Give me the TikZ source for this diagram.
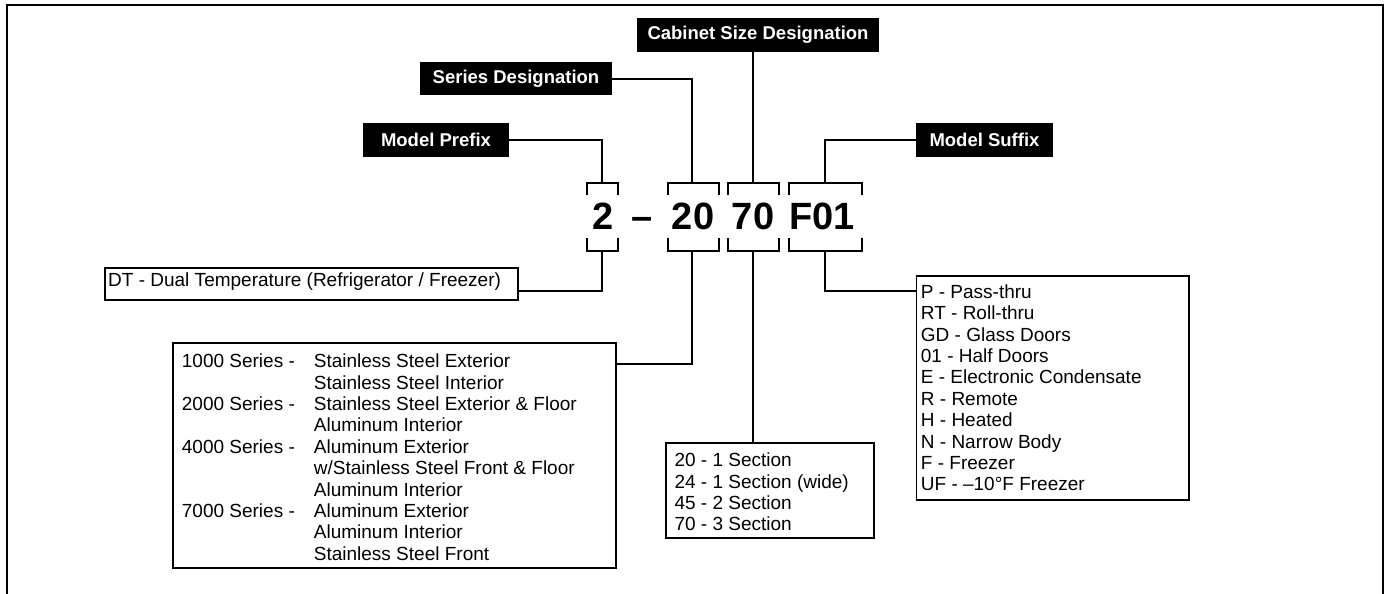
\documentclass[tikz,border=0pt]{standalone}
\usepackage{fontspec}
\setmainfont{Liberation Sans}
\begin{document}
\begin{tikzpicture}[x=1pt,y=-1pt,
  lbl/.style={fill=black,text=white,font=\fontsize{18.5}{22}\selectfont\bfseries,inner sep=0pt,minimum height=33.4pt},
  box/.style={draw,line width=1.8pt,inner sep=0pt},
  conn/.style={line width=1.8pt},
  brk/.style={line width=1.8pt},
  txt/.style={font=\fontsize{19}{21.4}\selectfont,inner sep=0pt,anchor=base west},
  big/.style={font=\fontsize{38}{40}\selectfont\bfseries,inner sep=0pt,anchor=base}]
\useasboundingbox (0,0) rectangle (1384,594);
\draw[line width=2.2pt] (7,594) -- (7,5) -- (1383,5) -- (1383,594);

% top labels
\node[lbl,minimum width=242pt] (cab) at (758,35) {Cabinet Size Designation};
\node[lbl,minimum width=192pt] (ser) at (516,78.7) {Series Designation};
\node[lbl,minimum width=146pt] (pre) at (436,140) {Model Prefix};
\node[lbl,minimum width=137pt] (suf) at (984.5,140) {Model Suffix};

% bracket centres
\coordinate (t1) at (602,183.3); \coordinate (b1) at (602,250.7);
\coordinate (t2) at (692,183.3); \coordinate (b2) at (692,250.7);
\coordinate (t3) at (753,183.3); \coordinate (b3) at (753,250.7);
\coordinate (t4) at (825,183.3); \coordinate (b4) at (825,250.7);

% brackets
\foreach \l/\r in {587/618, 668/719, 728/779, 789/862}{
  \draw[brk] (\l,195) -- (\l,183.3) -- (\r,183.3) -- (\r,195);
  \draw[brk] (\l,238) -- (\l,250.7) -- (\r,250.7) -- (\r,238);
}

% model number
\node[big] (c1) at (603,229) {2};
\node[big] (cd) at (642,229) {–};
\node[big] (c2) at (693,229) {20};
\node[big] (c3) at (753,229) {70};
\node[big] (c4) at (822,229) {F01};

% upper connectors
\draw[conn] (pre.east) -| (t1);
\draw[conn] (ser.east) -| (t2);
\draw[conn] (cab.south -| t3) -- (t3);
\draw[conn] (suf.west) -| (t4);

% boxes
\node[box,minimum width=413pt,minimum height=31.7pt] (dt) at (311.5,284.2) {};
\node[box,minimum width=443pt,minimum height=224.7pt] (sb) at (394.5,455.7) {};
\node[box,minimum width=208.3pt,minimum height=95.6pt] (cb) at (770.2,490.5) {};
\node[box,minimum width=272.5pt,minimum height=224pt] (sx) at (1052.8,388) {};

% lower connectors
\draw[conn] (b1) |- ([yshift=-7pt]dt.east);
\draw[conn] (b2) |- ([yshift=-21.7pt]sb.north east);
\draw[conn] (b3) -- (b3 |- cb.north);
\draw[conn] (b4) |- ([yshift=-15.7pt]sx.north west);

% texts
\node[txt] (dtt) at (108,286.7) {DT - Dual Temperature (Refrigerator / Freezer)};
\node[txt] (sbt) at (181.7,367.7) {\begin{tabular}[t]{@{}p{132pt}@{}l@{}}
1000 Series - & Stainless Steel Exterior\\
 & Stainless Steel Interior\\
2000 Series - & Stainless Steel Exterior \& Floor\\
 & Aluminum Interior\\
4000 Series - & Aluminum Exterior\\
 & w/Stainless Steel Front \& Floor\\
 & Aluminum Interior\\
7000 Series - & Aluminum Exterior\\
 & Aluminum Interior\\
 & Stainless Steel Front
\end{tabular}};
\node[txt] (cbt) at (674.3,466.7) {\begin{tabular}[t]{@{}l@{}}
20 - 1 Section\\
24 - 1 Section (wide)\\
45 - 2 Section\\
70 - 3 Section
\end{tabular}};
\node[txt] (sxt) at (920.7,298.3) {\begin{tabular}[t]{@{}l@{}}
P - Pass-thru\\
RT - Roll-thru\\
GD - Glass Doors\\
01 - Half Doors\\
E - Electronic Condensate\\
R - Remote\\
H - Heated\\
N - Narrow Body\\
F - Freezer\\
UF - –10°F Freezer
\end{tabular}};
\end{tikzpicture}
\end{document}
